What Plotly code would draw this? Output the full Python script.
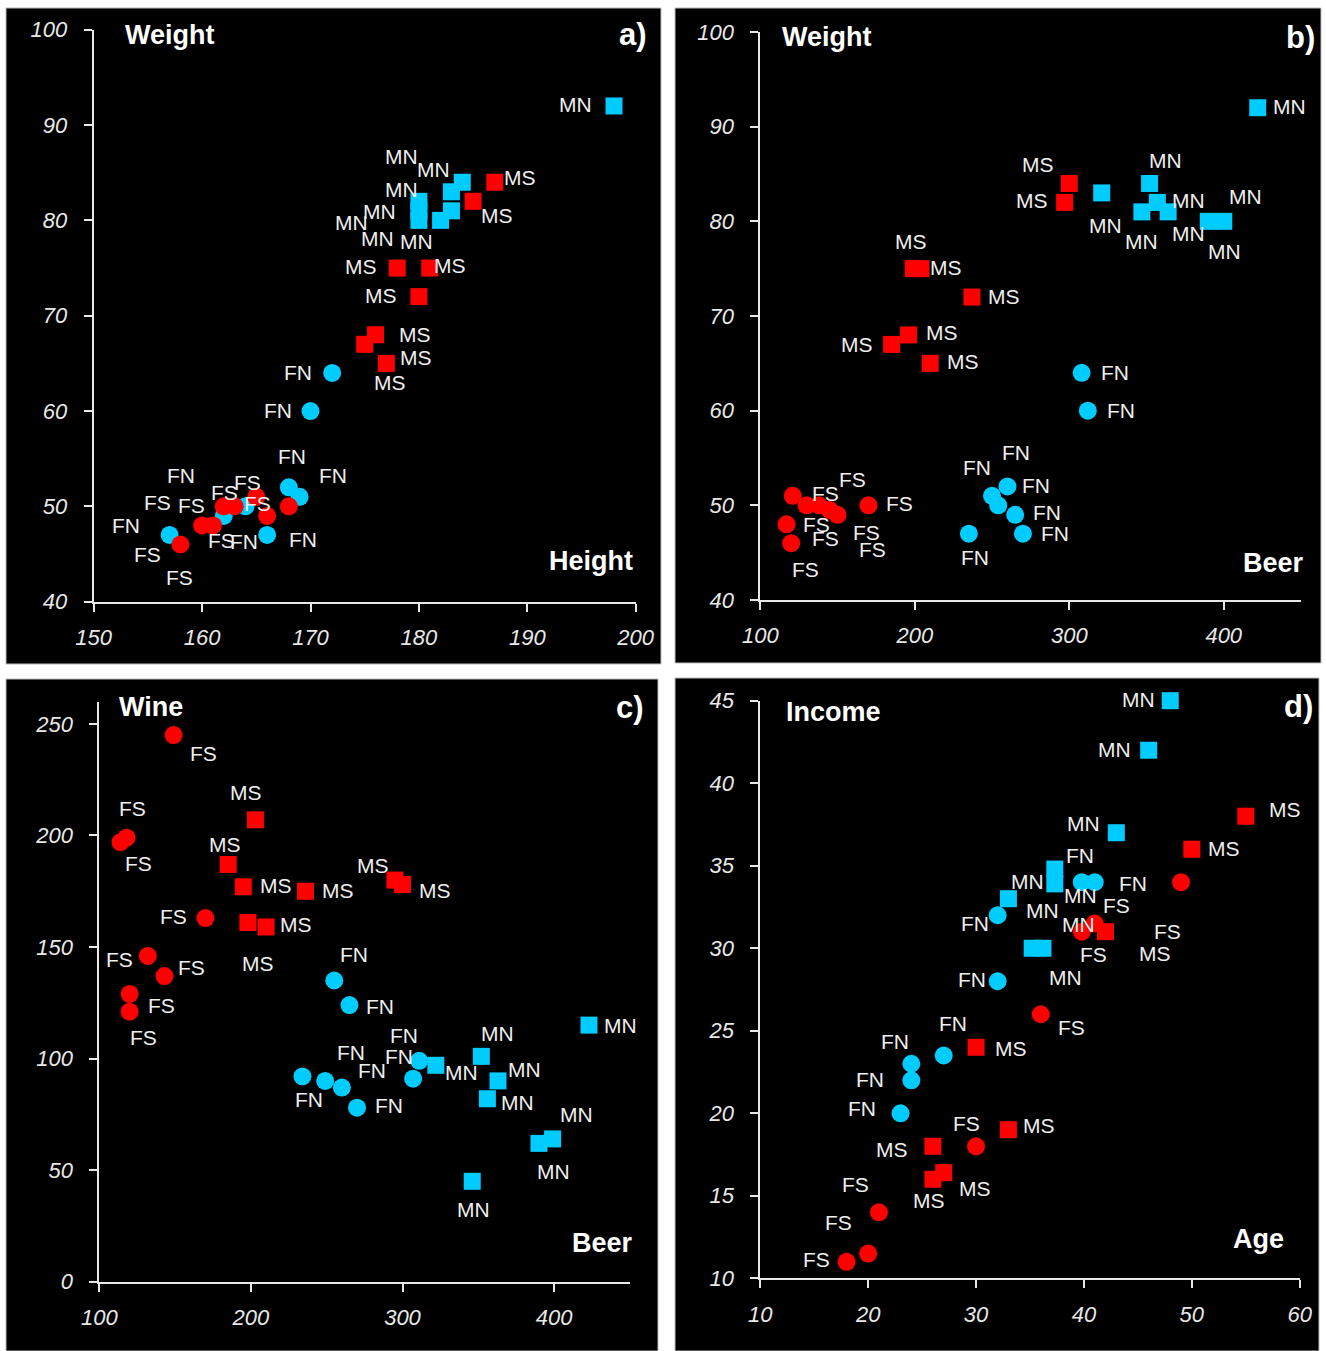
import plotly.graph_objects as go

W, H = 1326, 1351

# ---------------- data ----------------
# Panel a: Height (x) vs Weight (y)
a_fn_height = [172, 170, 168, 169, 157, 162, 164, 166]
a_fn_weight = [64, 60, 52, 51, 47, 49, 50, 47]
a_mn_height = [198, 180, 180, 180, 183, 184, 183, 182]
a_mn_weight = [92, 82, 81, 80, 83, 84, 81, 80]
a_fs_height = [168, 158, 160, 161, 162, 163, 165, 166]
a_fs_weight = [50, 46, 48, 48, 50, 50, 51, 49]
a_ms_height = [187, 185, 178, 181, 180, 176, 175, 177]
a_ms_weight = [84, 82, 75, 75, 72, 68, 67, 65]

# Panel b: Beer (x) vs Weight (y)
b_fn_beer = [308, 312, 260, 250, 254, 265, 270, 235]
b_fn_weight = [64, 60, 52, 51, 50, 49, 47, 47]
b_mn_beer = [422, 321, 352, 357, 347, 364, 390, 400]
b_mn_weight = [92, 83, 84, 82, 81, 81, 80, 80]
b_fs_beer = [170, 120, 117, 121, 130, 138, 145, 150]
b_fs_weight = [50, 46, 48, 51, 50, 50, 49.5, 49]
b_ms_beer = [300, 297, 199, 204, 237, 185, 196, 210]
b_ms_weight = [84, 82, 75, 75, 72, 67, 68, 65]

# Panel c: Beer (x) vs Wine (y)
c_fn_beer = [255, 265, 234, 249, 260, 270, 307, 311]
c_fn_wine = [135, 124, 92, 90, 87, 78, 91, 99]
c_mn_beer = [423, 352, 322, 363, 356, 399, 390, 346]
c_mn_wine = [115, 101, 97, 90, 82, 64, 62, 45]
c_fs_beer = [149, 114, 118, 170, 132, 143, 120, 120]
c_fs_wine = [245, 197, 199, 163, 146, 137, 129, 121]
c_ms_beer = [203, 185, 195, 236, 295, 300, 198, 210]
c_ms_wine = [207, 187, 177, 175, 180, 178, 161, 159]

# Panel d: Age (x) vs Income (y)
d_fn_age = [39.8, 41, 32, 32, 27, 24, 24, 23]
d_fn_income = [34, 34, 32, 28, 23.5, 23, 22, 20]
d_mn_age = [48, 46, 43, 37.3, 37.3, 33, 35.2, 36.2]
d_mn_income = [45, 42, 37, 34.8, 33.9, 33, 30, 30]
d_fs_age = [49, 41, 39.8, 36, 30, 21, 20, 18]
d_fs_income = [34, 31.5, 31, 26, 18, 14, 11.5, 11]
d_ms_age = [55, 50, 42, 30, 33, 26, 27, 26]
d_ms_income = [38, 36, 31, 24, 19, 18, 16.4, 16]

# tick values
a_xticks = [150, 160, 170, 180, 190, 200]
a_yticks = [40, 50, 60, 70, 80, 90, 100]
b_xticks = [100, 200, 300, 400]
b_yticks = [40, 50, 60, 70, 80, 90, 100]
c_xticks = [100, 200, 300, 400]
c_yticks = [0, 50, 100, 150, 200, 250]
d_xticks = [10, 20, 30, 40, 50, 60]
d_yticks = [10, 15, 20, 25, 30, 35, 40, 45]

# ---------------- label offsets (pixels, dx right, dy down) ----------------
a_fn_off = [(-34, 0), (-33, -1), (3, -31), (33, -21), (-44, -9), (-43, -40), (-1, 35), (36, 5)]
a_mn_off = [(-39, -1), (-17, -12), (-39, 1), (-41, 18), (-50, -35), (-29, -13), (-100, 12), (-24, 21)]
a_fs_off = [(-31, -3), (-1, 33), (-55, 29), (-55, -23), (-32, -1), (-10, -14), (-9, -14), (-46, 25)]
a_ms_off = [(25, -5), (24, 14), (-36, -2), (20, -3), (-38, -1), (39, 0), (51, 13), (4, 19)]

b_fn_off = [(33, 0), (33, 0), (9, -34), (-15, -28), (38, -20), (32, -2), (32, 0), (6, 24)]
b_mn_off = [(32, -1), (4, 33), (16, -23), (31, -2), (0, 30), (20, 22), (16, 30), (22, -25)]
b_fs_off = [(31, -2), (14, 26), (30, 0), (33, -2), (19, 33), (33, -26), (37, 22), (35, 35)]
b_ms_off = [(-31, -19), (-33, -2), (-2, -27), (25, -1), (32, -1), (-35, 0), (33, -2), (33, -2)]

c_fn_off = [(20, -26), (31, 1), (7, 23), (26, -28), (30, -17), (32, -2), (-14, -22), (-15, -25)]
c_mn_off = [(32, 0), (16, -23), (26, 7), (26, -11), (30, 4), (24, -24), (15, 28), (1, 28)]
c_fs_off = [(30, 18), (18, 21), (6, -29), (-32, -2), (-28, 4), (27, -9), (32, 12), (14, 26)]
c_ms_off = [(-9, -27), (-3, -20), (33, -1), (33, -1), (-22, -15), (32, 6), (10, 41), (30, -2)]

d_fn_off = [(-2, -27), (38, 1), (-23, 8), (-26, -2), (9, -32), (-16, -22), (-41, -1), (-39, -5)]
d_mn_off = [(-32, -1), (-34, -1), (-33, -9), (-27, 12), (26, 12), (34, 12), (46, -24), (23, 29)]
d_fs_off = [(-14, 49), (22, -18), (12, 23), (31, 13), (-10, -23), (-23, -28), (-30, -31), (-30, -2)]
d_ms_off = [(39, -7), (32, -1), (49, 22), (35, 1), (31, -4), (-41, 3), (31, 16), (-4, 21)]

# ---------------- styling ----------------
RED = "#FF0000"
BLUE = "#00CCFF"
TXT = "#EEEEEE"
FONT = "Liberation Sans"


def px2x(p):
    return p / W


def py2y(p):
    return 1 - p / H


panels = [
    dict(name="a", xa="x", ya="y",
         xdom=[px2x(93.7), px2x(635.7)], ydom=[py2y(601.7), py2y(29.7)],
         xr=[150, 200], yr=[40, 100], xt=a_xticks, yt=a_yticks,
         ytitle="Weight", xtitle="Height", letter="a)",
         ytpos=(170, 35), xtpos=(591, 561), lpos=(633, 35),
         groups=[("FN", a_fn_height, a_fn_weight, a_fn_off, "circle", BLUE),
                 ("MN", a_mn_height, a_mn_weight, a_mn_off, "square", BLUE),
                 ("FS", a_fs_height, a_fs_weight, a_fs_off, "circle", RED),
                 ("MS", a_ms_height, a_ms_weight, a_ms_off, "square", RED)],
         bg=(6, 8, 661, 664)),
    dict(name="b", xa="x2", ya="y2",
         xdom=[px2x(760.3), px2x(1301)], ydom=[py2y(600), py2y(32)],
         xr=[100, 450], yr=[40, 100], xt=b_xticks, yt=b_yticks,
         ytitle="Weight", xtitle="Beer", letter="b)",
         ytpos=(827, 37), xtpos=(1273, 563), lpos=(1300, 37),
         groups=[("FN", b_fn_beer, b_fn_weight, b_fn_off, "circle", BLUE),
                 ("MN", b_mn_beer, b_mn_weight, b_mn_off, "square", BLUE),
                 ("FS", b_fs_beer, b_fs_weight, b_fs_off, "circle", RED),
                 ("MS", b_ms_beer, b_ms_weight, b_ms_off, "square", RED)],
         bg=(675, 8, 1321, 663)),
    dict(name="c", xa="x3", ya="y3",
         xdom=[px2x(99.3), px2x(629.9)], ydom=[py2y(1281.7), py2y(701.6)],
         xr=[100, 450], yr=[0, 260], xt=c_xticks, yt=c_yticks,
         ytitle="Wine", xtitle="Beer", letter="c)",
         ytpos=(151, 707), xtpos=(602, 1243), lpos=(630, 707),
         groups=[("FN", c_fn_beer, c_fn_wine, c_fn_off, "circle", BLUE),
                 ("MN", c_mn_beer, c_mn_wine, c_mn_off, "square", BLUE),
                 ("FS", c_fs_beer, c_fs_wine, c_fs_off, "circle", RED),
                 ("MS", c_ms_beer, c_ms_wine, c_ms_off, "square", RED)],
         bg=(6, 679, 658, 1351)),
    dict(name="d", xa="x4", ya="y4",
         xdom=[px2x(760.3), px2x(1299.7)], ydom=[py2y(1278.3), py2y(700.7)],
         xr=[10, 60], yr=[10, 45], xt=d_xticks, yt=d_yticks,
         ytitle="Income", xtitle="Age", letter="d)",
         ytpos=(833, 712), xtpos=(1258, 1239), lpos=(1298, 706),
         groups=[("FN", d_fn_age, d_fn_income, d_fn_off, "circle", BLUE),
                 ("MN", d_mn_age, d_mn_income, d_mn_off, "square", BLUE),
                 ("FS", d_fs_age, d_fs_income, d_fs_off, "circle", RED),
                 ("MS", d_ms_age, d_ms_income, d_ms_off, "square", RED)],
         bg=(675, 678, 1319, 1351)),
]

fig = go.Figure()
shapes = []
annotations = []
layout = dict(
    width=W, height=H,
    margin=dict(l=0, r=0, t=0, b=0, pad=0, autoexpand=False),
    paper_bgcolor="white", plot_bgcolor="rgba(0,0,0,0)",
    showlegend=False,
)

axis_common = dict(
    showgrid=False, zeroline=False, showline=True, linecolor="#E8E8E8", linewidth=2,
    ticks="outside", ticklen=8, tickwidth=2, tickcolor="#E8E8E8",
    tickfont=dict(family=FONT, size=22, color="#E8E8E8", style="italic"),
    fixedrange=True, automargin=False,
)

for p in panels:
    x0, y0, x1, y1 = p["bg"]
    shapes.append(dict(type="rect", xref="paper", yref="paper", layer="below",
                       x0=px2x(x0), x1=px2x(x1), y0=py2y(y1), y1=py2y(y0),
                       fillcolor="black", line=dict(color="#BBBBBB", width=1)))
    xk = "xaxis" + p["xa"][1:]
    yk = "yaxis" + p["ya"][1:]
    layout[xk] = dict(axis_common, domain=p["xdom"], range=p["xr"], tickvals=p["xt"],
                      anchor=p["ya"], ticklabelstandoff=7)
    layout[yk] = dict(axis_common, domain=p["ydom"], range=p["yr"], tickvals=p["yt"],
                      anchor=p["xa"], ticklabelstandoff=12)
    for (lab, xs, ys, offs, sym, col) in p["groups"]:
        fig.add_trace(go.Scatter(
            x=xs, y=ys, mode="markers", xaxis=p["xa"], yaxis=p["ya"],
            cliponaxis=False,
            marker=dict(symbol=sym, size=18 if sym == "circle" else 17, color=col,
                        line=dict(width=0)),
            name=lab, hoverinfo="skip"))
        for xv, yv, (dx, dy) in zip(xs, ys, offs):
            annotations.append(dict(
                x=xv, y=yv, xref=p["xa"], yref=p["ya"], text=lab, showarrow=False,
                xshift=dx, yshift=-dy, xanchor="center", yanchor="middle",
                font=dict(family=FONT, size=21, color=TXT)))
    for txt, (tx, ty), size in [(p["ytitle"], p["ytpos"], 27),
                                (p["xtitle"], p["xtpos"], 27),
                                (p["letter"], p["lpos"], 31)]:
        annotations.append(dict(
            x=px2x(tx), y=py2y(ty), xref="paper", yref="paper", text="<b>%s</b>" % txt,
            showarrow=False, xanchor="center", yanchor="middle",
            font=dict(family=FONT, size=size, color="white")))

layout["shapes"] = shapes
layout["annotations"] = annotations
fig.update_layout(**layout)
fig.write_html("out.html")
